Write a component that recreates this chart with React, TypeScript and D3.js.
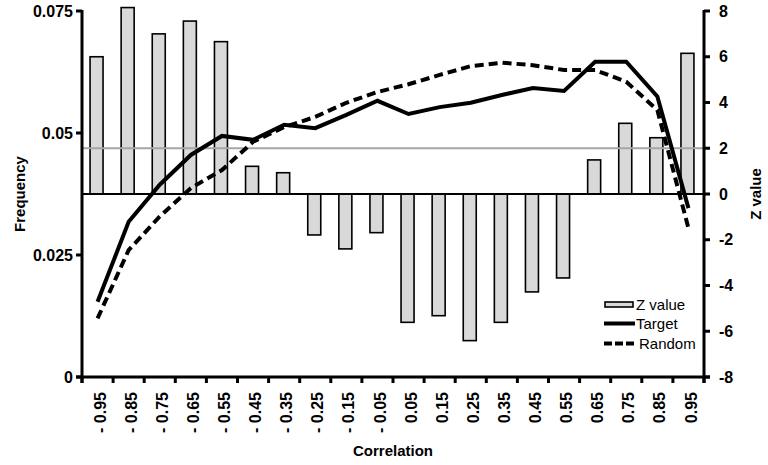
import React from "react";
import * as d3 from "d3";

const categories = ["- 0.95","- 0.85","- 0.75","- 0.65","- 0.55","- 0.45","- 0.35","- 0.25","- 0.15","- 0.05","0.05","0.15","0.25","0.35","0.45","0.55","0.65","0.75","0.85","0.95"];
const zValues = [6.0,8.15,7.0,7.56,6.66,1.21,0.93,-1.79,-2.4,-1.69,-5.61,-5.32,-6.41,-5.61,-4.28,-3.67,1.49,3.09,2.46,6.15];
const target = [0.0154,0.0318,0.0394,0.0455,0.0494,0.0486,0.0517,0.051,0.0537,0.0566,0.0539,0.0553,0.0562,0.0578,0.0592,0.0586,0.0646,0.0646,0.0575,0.0346];
const random = [0.012,0.026,0.0329,0.0387,0.0424,0.0482,0.0512,0.0533,0.0562,0.0584,0.06,0.0619,0.0637,0.0644,0.0639,0.0629,0.0629,0.0605,0.0547,0.0305];
const freqTicks = [0, 0.025, 0.05, 0.075];
const freqTickLabels = ["0", "0.025", "0.05", "0.075"];
const zTicks = [8, 6, 4, 2, 0, -2, -4, -6, -8];
const refZ = 2;
const legendLabels = ["Z value", "Target", "Random"];

const L = 82, R = 704, T = 11, B = 377;
const FONT = "'Liberation Sans', Arial, sans-serif";

export default function App() {
  const x = d3.scaleBand<string>().domain(categories).range([L, R]).paddingInner(0).paddingOuter(0);
  const yL = d3.scaleLinear().domain([0, 0.075]).range([B, T]);
  const yR = d3.scaleLinear().domain([-8, 8]).range([B, T]);
  const bw = x.bandwidth();
  const cx = (c: string) => (x(c) as number) + bw / 2;
  const line = d3.line<number>().x((_, i) => cx(categories[i])).y((d) => yL(d));
  const barW = 13;
  const boundaries = d3.range(0, categories.length + 1).map((i) => L + i * bw);

  return (
    <svg width={768} height={465} style={{ position: "absolute", left: 0, top: 0, background: "#fff" }} fontFamily={FONT}>
      <rect x={0} y={0} width={768} height={465} fill="#fff" />
      {categories.map((c, i) => {
        const v = zValues[i];
        const y0 = yR(0), y1 = yR(v);
        return (
          <rect key={c} x={cx(c) - barW / 2 - 1} y={Math.min(y0, y1)} width={barW} height={Math.abs(y1 - y0)}
            fill="#d9d9d9" stroke="#000" strokeWidth={1.6} />
        );
      })}
      <line x1={L} x2={R} y1={yR(refZ)} y2={yR(refZ)} stroke="#a6a6a6" strokeWidth={2} />
      <line x1={L} x2={R} y1={yR(0)} y2={yR(0)} stroke="#000" strokeWidth={2} />
      <path d={line(random) as string} fill="none" stroke="#000" strokeWidth={4} strokeDasharray="9,5" />
      <path d={line(target) as string} fill="none" stroke="#000" strokeWidth={4} strokeLinejoin="miter" />
      <line x1={L} x2={L} y1={T - 1} y2={B + 6} stroke="#000" strokeWidth={3} />
      <line x1={R} x2={R} y1={T - 1} y2={B + 6} stroke="#000" strokeWidth={3} />
      <line x1={L - 6} x2={R + 6} y1={B} y2={B} stroke="#000" strokeWidth={3} />
      {freqTicks.map((t, i) => (
        <g key={"lt" + i}>
          <line x1={L - 6} x2={L} y1={yL(t)} y2={yL(t)} stroke="#000" strokeWidth={3} />
          <text x={L - 9} y={yL(t)} dy="0.35em" textAnchor="end" fontSize={16} fontWeight="bold">{freqTickLabels[i]}</text>
        </g>
      ))}
      {zTicks.map((t) => (
        <g key={"rt" + t}>
          <line x1={R} x2={R + 6} y1={yR(t)} y2={yR(t)} stroke="#000" strokeWidth={3} />
          <text x={R + 15} y={yR(t)} dy="0.35em" textAnchor="start" fontSize={16} fontWeight="bold">{t}</text>
        </g>
      ))}
      {boundaries.map((b, i) => (
        <line key={"xt" + i} x1={b} x2={b} y1={B} y2={B + 6} stroke="#000" strokeWidth={3} />
      ))}
      {categories.map((c) => (
        <text key={"xl" + c} transform={`translate(${cx(c) + 2.5},${B + 15}) rotate(-90)`} textAnchor="end" dy="0.35em"
          fontSize={16} fontWeight="bold">{c}</text>
      ))}
      <text x={(L + R) / 2} y={456} textAnchor="middle" fontSize={15} fontWeight="bold">Correlation</text>
      <text transform={`translate(20,${(T + B) / 2}) rotate(-90)`} textAnchor="middle" dy="0.35em" fontSize={15} fontWeight="bold">Frequency</text>
      <text transform={`translate(756,${(T + B) / 2}) rotate(-90)`} textAnchor="middle" dy="0.35em" fontSize={15} fontWeight="bold">Z value</text>
      <rect x={605} y={302} width={28} height={5} fill="#d9d9d9" stroke="#000" strokeWidth={1.6} />
      <text x={636} y={304.5} dy="0.35em" fontSize={15}>{legendLabels[0]}</text>
      <line x1={604} x2={635} y1={323.5} y2={323.5} stroke="#000" strokeWidth={4} />
      <text x={636} y={323.5} dy="0.35em" fontSize={15}>{legendLabels[1]}</text>
      <line x1={604} x2={635} y1={343.5} y2={343.5} stroke="#000" strokeWidth={4} strokeDasharray="8,3" />
      <text x={639} y={343.5} dy="0.35em" fontSize={15}>{legendLabels[2]}</text>
    </svg>
  );
}
